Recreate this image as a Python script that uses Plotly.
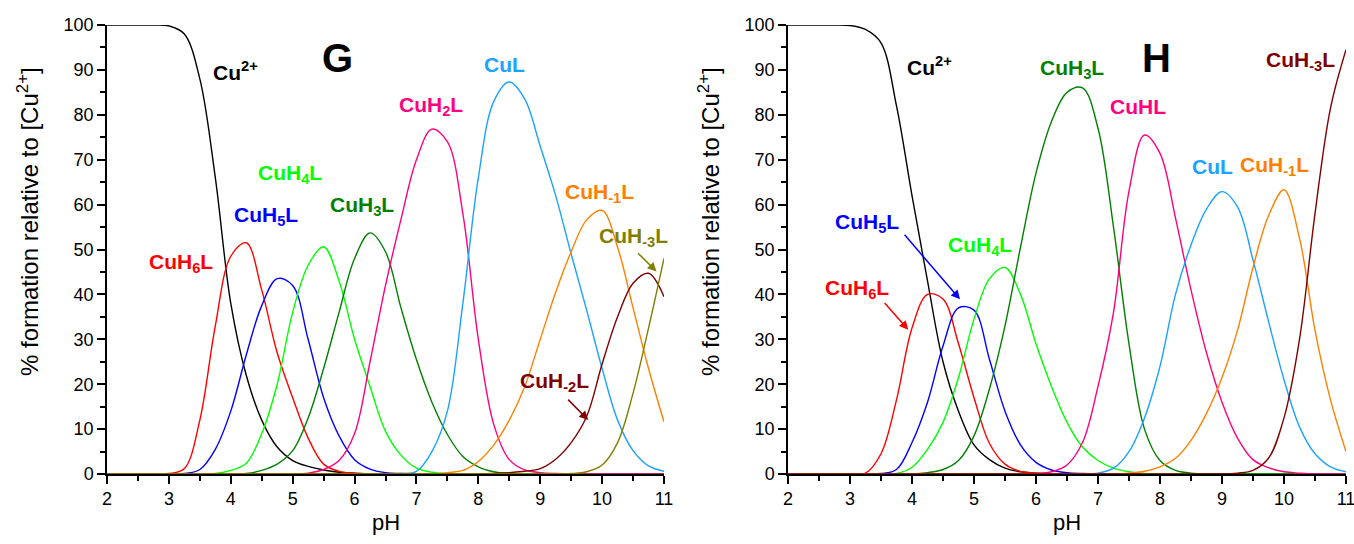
import plotly.graph_objects as go

# ---------------- data ----------------
ph = [2.0, 2.25, 2.5, 2.75, 3.0, 3.25, 3.5, 3.75, 4.0, 4.25, 4.5, 4.75, 5.0, 5.25, 5.5, 5.75,
      6.0, 6.25, 6.5, 6.75, 7.0, 7.25, 7.5, 7.75, 8.0, 8.25, 8.5, 8.75, 9.0, 9.25, 9.5, 9.75,
      10.0, 10.25, 10.5, 10.75, 11.0]

# Panel G
G_cu = [100, 100, 100, 100, 99.8, 98, 88, 66, 38, 22, 12, 6, 3, 1.7, 0.9, 0.4, 0.2,
        0, 0, 0, 0, 0, 0, 0, 0, 0, 0, 0, 0, 0, 0, 0, 0, 0, 0, 0, 0]
G_cuh6 = [0, 0, 0, 0, 0.1, 1.2, 12, 33, 48.5, 51.5, 41, 27, 17, 8, 2.2, 0.6, 0.2,
          0, 0, 0, 0, 0, 0, 0, 0, 0, 0, 0, 0, 0, 0, 0, 0, 0, 0, 0, 0]
G_cuh5 = [0, 0, 0, 0, 0, 0.1, 1, 5.5, 14, 26.5, 37.5, 43.5, 42, 30, 17, 8.5, 3.2, 1.1, 0.3, 0.1,
          0, 0, 0, 0, 0, 0, 0, 0, 0, 0, 0, 0, 0, 0, 0, 0, 0]
G_cuh4 = [0, 0, 0, 0, 0, 0, 0, 0.1, 0.8, 2.4, 9, 20, 36, 46.5, 50.6, 43, 30, 19.5, 9.5, 4.2,
          1.3, 0.4, 0.1, 0, 0, 0, 0, 0, 0, 0, 0, 0, 0, 0, 0, 0, 0]
G_cuh3 = [0, 0, 0, 0, 0, 0, 0, 0, 0, 0.1, 0.8, 2.2, 5.2, 12.5, 23.5, 36, 48, 53.7, 49.5, 37,
          25.5, 16, 8.8, 3.9, 1.6, 0.5, 0.1, 0, 0, 0, 0, 0, 0, 0, 0, 0, 0]
G_cuh2 = [0, 0, 0, 0, 0, 0, 0, 0, 0, 0, 0, 0, 0, 0.2, 1, 3, 9, 25, 42, 56.7,
          70, 76.8, 74, 58, 30, 11, 3.2, 0.9, 0.3, 0.1, 0, 0, 0, 0, 0, 0, 0]
G_cul = [0, 0, 0, 0, 0, 0, 0, 0, 0, 0, 0, 0, 0, 0, 0, 0, 0, 0, 0, 0.1,
         0.6, 5, 14, 38, 66, 83, 87.3, 83.5, 73, 62, 49, 36.5, 23.5, 12, 5.2, 1.8, 0.6]
G_cuhm1 = [0, 0, 0, 0, 0, 0, 0, 0, 0, 0, 0, 0, 0, 0, 0, 0, 0, 0, 0, 0,
           0, 0, 0.3, 0.8, 2.8, 6.5, 12, 19.5, 30, 40.5, 49.5, 56.6, 58.7, 50.5, 37, 23.5, 11.6]
G_cuhm2 = [0, 0, 0, 0, 0, 0, 0, 0, 0, 0, 0, 0, 0, 0, 0, 0, 0, 0, 0, 0,
           0, 0, 0, 0, 0, 0.1, 0.3, 0.6, 1.2, 3.3, 7, 12.8, 24.5, 35, 42.5, 44.7, 39.5]
G_cuhm3 = [0, 0, 0, 0, 0, 0, 0, 0, 0, 0, 0, 0, 0, 0, 0, 0, 0, 0, 0, 0,
           0, 0, 0, 0, 0, 0, 0, 0, 0, 0, 0.1, 0.5, 2, 7, 18, 32.5, 48]

# Panel H
H_cu = [100, 100, 100, 100, 99.9, 99, 96, 82, 62, 43, 25, 14, 6.5, 3.2, 1.3, 0.5, 0.2,
        0, 0, 0, 0, 0, 0, 0, 0, 0, 0, 0, 0, 0, 0, 0, 0, 0, 0, 0, 0]
H_cuh6 = [0, 0, 0, 0, 0, 0.2, 4.5, 16.5, 32.5, 40, 39, 29, 17, 6.8, 2.2, 0.6, 0.2,
          0, 0, 0, 0, 0, 0, 0, 0, 0, 0, 0, 0, 0, 0, 0, 0, 0, 0, 0, 0]
H_cuh5 = [0, 0, 0, 0, 0, 0, 0.1, 1, 7, 16, 28.5, 37, 36.5, 25.5, 14, 6.5, 2.6, 0.9, 0.3, 0.1,
          0, 0, 0, 0, 0, 0, 0, 0, 0, 0, 0, 0, 0, 0, 0, 0, 0]
H_cuh4 = [0, 0, 0, 0, 0, 0, 0, 0.1, 1.5, 5.5, 11.5, 21.5, 34.5, 43.5, 46, 40, 29, 19.5, 11.5, 6,
          3, 1.3, 0.5, 0.1, 0, 0, 0, 0, 0, 0, 0, 0, 0, 0, 0, 0, 0]
H_cuh3 = [0, 0, 0, 0, 0, 0, 0, 0, 0, 0.3, 1, 3, 8.5, 19, 33, 50.5, 67, 78.5, 85, 86,
          77, 55, 29, 10, 3, 0.8, 0.2, 0, 0, 0, 0, 0, 0, 0, 0, 0, 0]
H_cuhl = [0, 0, 0, 0, 0, 0, 0, 0, 0, 0, 0, 0, 0, 0, 0, 0, 0.1, 0.5, 2, 7,
          19.5, 36, 63, 75.5, 71.4, 57, 41, 27, 16, 8, 3.2, 1.4, 0.5, 0.2, 0, 0, 0]
H_cul = [0, 0, 0, 0, 0, 0, 0, 0, 0, 0, 0, 0, 0, 0, 0, 0, 0, 0, 0, 0,
         0.2, 1.3, 5, 12.5, 24, 40, 51, 59, 62.9, 59.5, 47.7, 34, 21, 10.5, 4.5, 1.6, 0.5]
H_cuhm1 = [0, 0, 0, 0, 0, 0, 0, 0, 0, 0, 0, 0, 0, 0, 0, 0, 0, 0, 0, 0,
           0, 0, 0.2, 0.6, 1.6, 3.5, 7.5, 13.5, 21.5, 32, 46, 57.5, 63.3, 52.5, 32, 16.5, 5]
H_cuhm3 = [0, 0, 0, 0, 0, 0, 0, 0, 0, 0, 0, 0, 0, 0, 0, 0, 0, 0, 0, 0,
           0, 0, 0, 0, 0, 0, 0, 0, 0, 0.2, 0.8, 3.5, 12.5, 30, 58, 81.5, 94.5]

x_ticks = [2, 3, 4, 5, 6, 7, 8, 9, 10, 11]
y_ticks = [0, 10, 20, 30, 40, 50, 60, 70, 80, 90, 100]

# ---------------- styles ----------------
C_BLACK = "#000000"
C_RED = "#FF0000"
C_BLUE = "#0000FF"
C_LIME = "#00FF00"
C_DGREEN = "#008000"
C_PINK = "#FF0080"
C_LBLUE = "#1AA3FF"
C_ORANGE = "#FF8000"
C_WINE = "#800000"
C_OLIVE = "#808000"

FONT = "Liberation Sans, Arial, sans-serif"
W, H = 1354, 544

fig = go.Figure()

series_G = [
    ("Cu2+", G_cu, C_BLACK), ("CuH6L", G_cuh6, C_RED), ("CuH5L", G_cuh5, C_BLUE),
    ("CuH4L", G_cuh4, C_LIME), ("CuH3L", G_cuh3, C_DGREEN), ("CuH2L", G_cuh2, C_PINK),
    ("CuL", G_cul, C_LBLUE), ("CuH-1L", G_cuhm1, C_ORANGE), ("CuH-2L", G_cuhm2, C_WINE),
    ("CuH-3L", G_cuhm3, C_OLIVE),
]
series_H = [
    ("Cu2+", H_cu, C_BLACK), ("CuH6L", H_cuh6, C_RED), ("CuH5L", H_cuh5, C_BLUE),
    ("CuH4L", H_cuh4, C_LIME), ("CuH3L", H_cuh3, C_DGREEN), ("CuHL", H_cuhl, C_PINK),
    ("CuL", H_cul, C_LBLUE), ("CuH-1L", H_cuhm1, C_ORANGE), ("CuH-3L", H_cuhm3, C_WINE),
]

for name, vals, col in series_G:
    fig.add_trace(go.Scatter(x=ph, y=vals, mode="lines", name=name, xaxis="x", yaxis="y",
                             line=dict(color=col, width=1.4, shape="spline", smoothing=1.0),
                             showlegend=False))
for name, vals, col in series_H:
    fig.add_trace(go.Scatter(x=ph, y=vals, mode="lines", name=name, xaxis="x2", yaxis="y2",
                             line=dict(color=col, width=1.4, shape="spline", smoothing=1.0),
                             showlegend=False))

def px_x(p):
    return p / W

def px_y(p):
    return 1 - p / H

axis_common = dict(
    showline=True, linecolor="black", linewidth=1.5, mirror=False,
    showgrid=False, zeroline=False, automargin=False,
    ticks="outside", ticklen=8, tickwidth=1.5, tickcolor="black",
    ticklabeloverflow="allow",
    tickfont=dict(family=FONT, size=18, color="black"),
)

fig.update_layout(
    width=W, height=H, autosize=False,
    template="none",
    margin=dict(l=0, r=0, t=0, b=0, pad=0),
    paper_bgcolor="white", plot_bgcolor="white",
    xaxis=dict(domain=[px_x(107), px_x(664)], range=[2, 11], tickvals=x_ticks,
               minor=dict(ticks="outside", ticklen=5, tickwidth=1.5, tickcolor="black", dtick=0.5),
               anchor="y", **axis_common),
    yaxis=dict(domain=[px_y(474), px_y(25)], range=[0, 100], tickvals=y_ticks,
               minor=dict(ticks="outside", ticklen=5, tickwidth=1.5, tickcolor="black", dtick=5),
               anchor="x", **axis_common),
    xaxis2=dict(domain=[px_x(788), px_x(1346)], range=[2, 11], tickvals=x_ticks,
                minor=dict(ticks="outside", ticklen=5, tickwidth=1.5, tickcolor="black", dtick=0.5),
                anchor="y2", **axis_common),
    yaxis2=dict(domain=[px_y(474), px_y(25)], range=[0, 100], tickvals=y_ticks,
                minor=dict(ticks="outside", ticklen=5, tickwidth=1.5, tickcolor="black", dtick=5),
                anchor="x2", **axis_common),
)

annotations = []

# axis titles
for cx in (28, 709):
    annotations.append(dict(xref="paper", yref="paper", x=px_x(cx), y=px_y(222),
                            text="% formation relative to [Cu<sup>2+</sup>]", textangle=-90,
                            showarrow=False, xanchor="center", yanchor="middle",
                            font=dict(family=FONT, size=24, color="black")))
for cx in (385.5, 1067):
    annotations.append(dict(xref="paper", yref="paper", x=px_x(cx), y=px_y(522),
                            text="pH", showarrow=False, xanchor="center", yanchor="middle",
                            font=dict(family=FONT, size=22, color="black")))

def label(xr, yr, x, y, text, col, size=21):
    annotations.append(dict(xref=xr, yref=yr, x=x, y=y, text="<b>" + text + "</b>",
                            showarrow=False, xanchor="center", yanchor="middle",
                            font=dict(family=FONT, size=size, color=col)))

def arrow(xr, yr, x0, y0, x1, y1, col):
    annotations.append(dict(xref=xr, yref=yr, axref=xr, ayref=yr, x=x1, y=y1, ax=x0, ay=y0,
                            text="", showarrow=True, arrowhead=2, arrowsize=1.2,
                            arrowwidth=1.5, arrowcolor=col))

# panel G labels
label("x", "y", 4.07, 89.8, "Cu<sup>2+</sup>", C_BLACK)
label("x", "y", 5.72, 92.6, "G", C_BLACK, size=40)
label("x", "y", 7.23, 82.0, "CuH<sub>2</sub>L", C_PINK)
label("x", "y", 8.43, 91.2, "CuL", C_LBLUE)
label("x", "y", 4.95, 66.8, "CuH<sub>4</sub>L", C_LIME)
label("x", "y", 4.57, 57.5, "CuH<sub>5</sub>L", C_BLUE)
label("x", "y", 6.12, 59.7, "CuH<sub>3</sub>L", C_DGREEN)
label("x", "y", 3.19, 47.0, "CuH<sub>6</sub>L", C_RED)
label("x", "y", 9.96, 62.6, "CuH<sub>-1</sub>L", C_ORANGE)
label("x", "y", 10.51, 52.7, "CuH<sub>-3</sub>L", C_OLIVE)
label("x", "y", 9.23, 20.4, "CuH<sub>-2</sub>L", C_WINE)
arrow("x", "y", 10.557, 49.5, 10.88, 45.1, C_OLIVE)
arrow("x", "y", 9.427, 16.9, 9.776, 12.0, C_WINE)

# panel H labels
label("x2", "y2", 4.29, 90.8, "Cu<sup>2+</sup>", C_BLACK)
label("x2", "y2", 7.946, 92.6, "H", C_BLACK, size=40)
label("x2", "y2", 6.573, 90.2, "CuH<sub>3</sub>L", C_DGREEN)
label("x2", "y2", 7.64, 81.8, "CuHL", C_PINK)
label("x2", "y2", 10.26, 91.9, "CuH<sub>-3</sub>L", C_WINE)
label("x2", "y2", 8.84, 68.4, "CuL", C_LBLUE)
label("x2", "y2", 9.85, 68.7, "CuH<sub>-1</sub>L", C_ORANGE)
label("x2", "y2", 5.10, 50.7, "CuH<sub>4</sub>L", C_LIME)
label("x2", "y2", 3.28, 56.0, "CuH<sub>5</sub>L", C_BLUE)
label("x2", "y2", 3.11, 41.2, "CuH<sub>6</sub>L", C_RED)
arrow("x2", "y2", 3.86, 53.6, 4.774, 38.9, C_BLUE)
arrow("x2", "y2", 3.537, 38.4, 3.94, 32.1, C_RED)

fig.update_layout(annotations=annotations)

fig.write_html("out.html",
               config={"displayModeBar": False},
               post_script="document.body.style.margin='0px';document.body.style.overflow='hidden';")
